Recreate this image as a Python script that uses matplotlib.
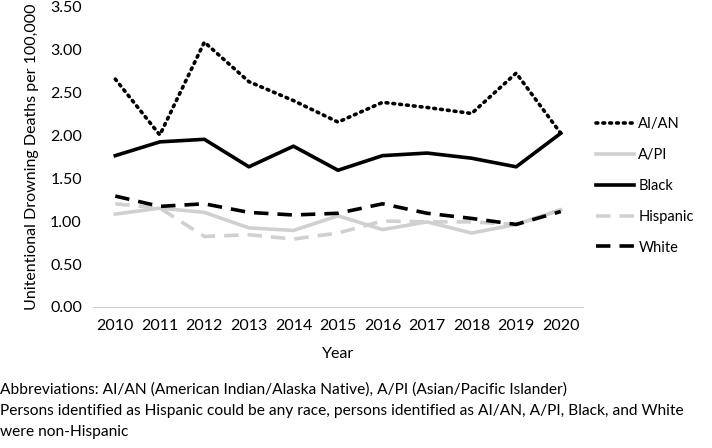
import matplotlib
matplotlib.use("Agg")
import matplotlib.pyplot as plt

plt.rcParams['font.family'] = ['Lato', 'DejaVu Sans']

years = [2010, 2011, 2012, 2013, 2014, 2015, 2016, 2017, 2018, 2019, 2020]
aian = [2.65, 2.00, 3.08, 2.62, 2.40, 2.15, 2.38, 2.32, 2.25, 2.72, 2.02]
api = [1.08, 1.15, 1.10, 0.92, 0.89, 1.06, 0.90, 0.99, 0.86, 0.96, 1.13]
black = [1.76, 1.92, 1.95, 1.63, 1.87, 1.59, 1.76, 1.79, 1.73, 1.63, 2.02]
hispanic = [1.20, 1.15, 0.82, 0.84, 0.79, 0.86, 1.00, 0.99, 0.99, 0.96, 1.13]
white = [1.29, 1.17, 1.20, 1.10, 1.07, 1.09, 1.20, 1.09, 1.03, 0.96, 1.11]
yticks = [0.0, 0.5, 1.0, 1.5, 2.0, 2.5, 3.0, 3.5]

fig = plt.figure(figsize=(7.12, 4.48), dpi=100)
ax = fig.add_axes([93/712, 1-307/448, (583-93)/712, 301/448])

grey = '#d0d0d0'
ax.plot(years, aian, color='black', lw=2.6, linestyle=(0, (0.5, 1.4)), dash_capstyle='round', label='AI/AN')
ax.plot(years, api, color=grey, lw=2.6, label='A/PI')
ax.plot(years, black, color='black', lw=2.6, label='Black')
ax.plot(years, hispanic, color=grey, lw=2.6, linestyle=(0, (4, 2.5)), label='Hispanic')
ax.plot(years, white, color='black', lw=2.6, linestyle=(0, (4, 2.5)), label='White')

ax.set_xlim(2009.5, 2020.5)
ax.set_ylim(0, 3.5)
ax.set_yticks(yticks)
ax.set_yticklabels([f'{v:.2f}' for v in yticks])
ax.set_xticks(years)
for s in ['top', 'right', 'left']:
    ax.spines[s].set_visible(False)
ax.spines['bottom'].set_color(grey)
ax.tick_params(length=0, labelsize=11.5, colors='black')
ax.tick_params(axis='x', pad=9)
ax.tick_params(axis='y', pad=8)
ax.set_xlabel('Year', fontsize=11.5, labelpad=10)
ax.set_ylabel('Unitentional Drowning Deaths per 100,000', fontsize=11.5, labelpad=8)

leg = ax.legend(loc='center left', bbox_to_anchor=(596/712, 1-186/448), bbox_transform=fig.transFigure,
                frameon=False, fontsize=10.5, handlelength=2.6, handletextpad=0.3, labelspacing=1.15,
                borderaxespad=0, borderpad=0)

fig.text(0.0, 1-390/448, 'Abbreviations: AI/AN (American Indian/Alaska Native), A/PI (Asian/Pacific Islander)', fontsize=11.2, va='center')
fig.text(0.0, 1-411/448, 'Persons identified as Hispanic could be any race, persons identified as AI/AN, A/PI, Black, and White', fontsize=11.2, va='center')
fig.text(0.0, 1-432/448, 'were non-Hispanic', fontsize=11.2, va='center')

fig.savefig('out.png', dpi=100)
